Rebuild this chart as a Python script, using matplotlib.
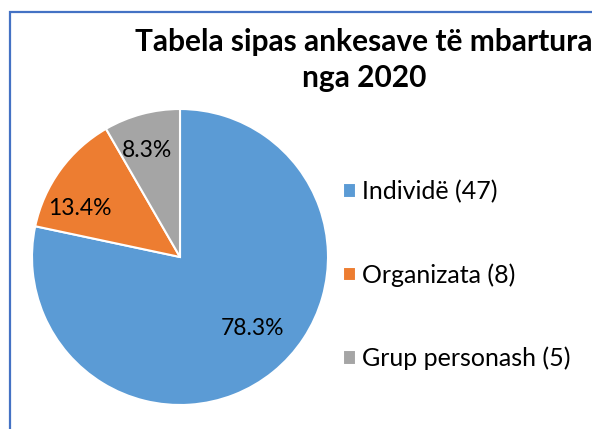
import matplotlib.pyplot as plt
from matplotlib.patches import Rectangle

plt.rcParams['font.family'] = ['Lato', 'DejaVu Sans']

categories = ['Individë (47)', 'Organizata (8)', 'Grup personash (5)']
counts = [47, 8, 5]
pct_labels = ['78.3%', '13.4%', '8.3%']
colors = ['#5B9BD5', '#ED7D31', '#A5A5A5']
# where Excel put the percentage labels (radius units, from the centre)
label_pos = [(0.49, -0.48), (-0.68, 0.33), (-0.22, 0.72)]

fig = plt.figure(figsize=(5.92, 4.29), dpi=100)

# chart frame (only the left/top edges fall inside the crop)
fig.add_artist(Rectangle((10 / 592, -0.1), 1.2, (429 - 12) / 429 + 0.1,
                         transform=fig.transFigure, fill=False,
                         edgecolor='#4472C4', lw=1.6))

fig.text(364 / 592, 1 - 42 / 429, 'Tabela sipas ankesave të mbartura',
         ha='center', va='center', fontsize=21.5, fontweight='bold')
fig.text(364 / 592, 1 - 78 / 429, 'nga 2020',
         ha='center', va='center', fontsize=21.5, fontweight='bold')

ax = fig.add_axes([(180 - 148) / 592, 24 / 429, 296 / 592, 296 / 429])
wedges, _ = ax.pie(counts, colors=colors, startangle=90, counterclock=False,
                   radius=1, wedgeprops=dict(edgecolor='white', linewidth=1.5))
for (x, y), txt in zip(label_pos, pct_labels):
    ax.text(x, y, txt, ha='center', va='center', fontsize=16.5, color='black')
ax.set_xlim(-1, 1)
ax.set_ylim(-1, 1)
ax.set_aspect('equal')

fig.legend(wedges, categories, loc='upper left',
           bbox_to_anchor=(343 / 592, 1 - 180 / 429), frameon=False,
           fontsize=18, handlelength=0.5, handleheight=0.5,
           handletextpad=0.25, labelspacing=2.4, borderpad=0,
           borderaxespad=0)

fig.savefig('out.png', dpi=100)
